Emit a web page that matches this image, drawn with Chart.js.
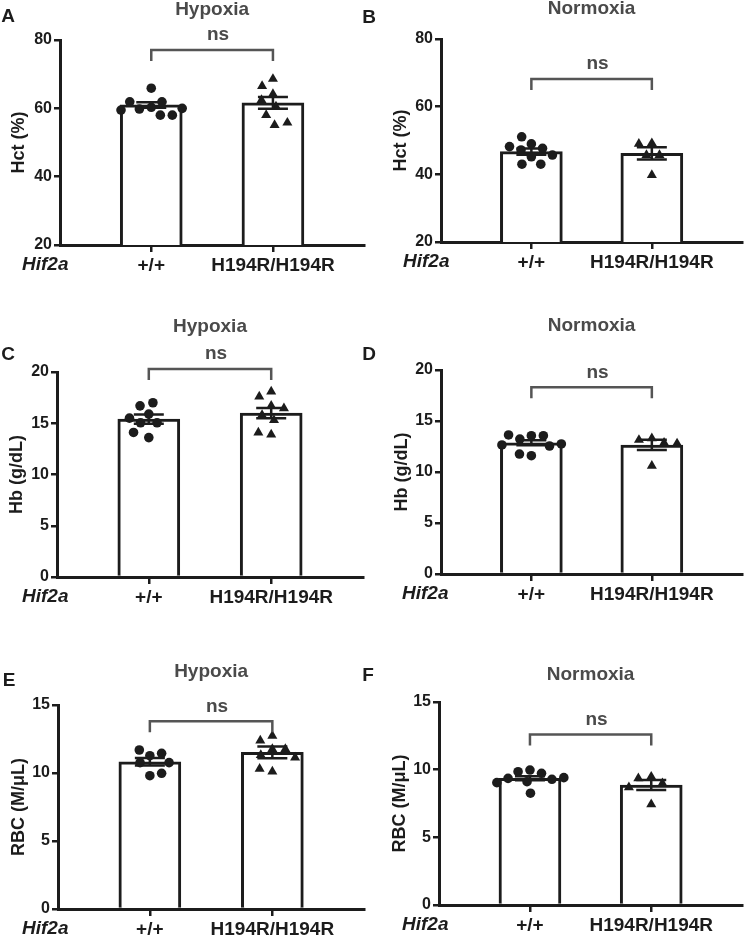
<!DOCTYPE html>
<html><head><meta charset="utf-8">
<script src="https://cdn.jsdelivr.net/npm/chart.js@4/dist/chart.umd.min.js"></script>
<style>
html,body{margin:0;padding:0;background:#fff;}
body{width:748px;height:937px;position:relative;overflow:hidden;}
canvas{position:absolute;}
</style></head><body>
<script>
// ---------- data ----------
const categories = ['+/+', 'H194R/H194R'];
const genotypeLabel = 'Hif2a';
const panelLetters = ['A', 'B', 'C', 'D', 'E', 'F'];
const conditions = ['Hypoxia', 'Normoxia'];
const significance = 'ns';
const hctTitle = 'Hct (%)';
const hbTitle = 'Hb (g/dL)';
const rbcTitle = 'RBC (M/μL)';
const hctTicks = [20, 40, 60, 80];
const hbTicks = [0, 5, 10, 15, 20];
const rbcTicks = [0, 5, 10, 15];

const hctHypoxiaWT = [60.3, 59.8, 61.9, 65.9, 58.0, 58.0, 61.9, 59.5, 60.0];
const hctHypoxiaMut = [68.6, 66.5, 64.2, 62.4, 60.5, 58.0, 55.1, 55.8];
const hctHypoxiaMean = [61.0, 61.6];
const hctHypoxiaSem = [0.8, 1.7];
const hctHypoxiaBracket = 77.1;

const hctNormoxiaWT = [49.0, 51.1, 47.7, 47.2, 48.2, 45.2, 45.7, 43.0, 43.0];
const hctNormoxiaMut = [49.2, 49.0, 45.7, 45.7, 39.8];
const hctNormoxiaMean = [46.7, 46.2];
const hctNormoxiaSem = [0.9, 1.8];
const hctNormoxiaBracket = 68.2;

const hbHypoxiaWT = [15.9, 16.7, 17.0, 15.05, 15.05, 15.5, 13.6, 14.1];
const hbHypoxiaMut = [18.1, 17.6, 16.7, 16.45, 15.8, 15.3, 13.9, 14.1];
const hbHypoxiaMean = [15.4, 16.0];
const hbHypoxiaSem = [0.45, 0.5];
const hbHypoxiaBracket = 20.3;

const hbNormoxiaWT = [13.56, 13.23, 13.56, 13.63, 12.55, 12.75, 12.65, 11.6, 11.76];
const hbNormoxiaMut = [13.3, 13.14, 12.87, 12.8, 10.6];
const hbNormoxiaMean = [12.87, 12.65];
const hbNormoxiaSem = [0.25, 0.5];
const hbNormoxiaBracket = 18.3;

const rbcHypoxiaWT = [11.27, 11.69, 11.45, 10.76, 10.76, 9.8, 9.98];
const rbcHypoxiaMut = [12.74, 12.38, 11.76, 11.76, 11.32, 11.13, 10.1, 10.3];
const rbcHypoxiaMean = [10.83, 11.52];
const rbcHypoxiaSem = [0.27, 0.43];
const rbcHypoxiaBracket = 13.8;

const rbcNormoxiaWT = [9.97, 9.85, 9.73, 9.11, 9.36, 9.29, 9.41, 9.04, 8.26];
const rbcNormoxiaMut = [9.48, 9.36, 8.99, 8.7, 7.44];
const rbcNormoxiaMean = [9.36, 8.87];
const rbcNormoxiaSem = [0.15, 0.37];
const rbcNormoxiaBracket = 12.6;

// ---------- panel assembly ----------
const panels = [
  {letter: panelLetters[0], title: conditions[0], yTitle: hctTitle, ticks: hctTicks, wt: hctHypoxiaWT, mut: hctHypoxiaMut, mean: hctHypoxiaMean, sem: hctHypoxiaSem, bracket: hctHypoxiaBracket},
  {letter: panelLetters[1], title: conditions[1], yTitle: hctTitle, ticks: hctTicks, wt: hctNormoxiaWT, mut: hctNormoxiaMut, mean: hctNormoxiaMean, sem: hctNormoxiaSem, bracket: hctNormoxiaBracket},
  {letter: panelLetters[2], title: conditions[0], yTitle: hbTitle, ticks: hbTicks, wt: hbHypoxiaWT, mut: hbHypoxiaMut, mean: hbHypoxiaMean, sem: hbHypoxiaSem, bracket: hbHypoxiaBracket},
  {letter: panelLetters[3], title: conditions[1], yTitle: hbTitle, ticks: hbTicks, wt: hbNormoxiaWT, mut: hbNormoxiaMut, mean: hbNormoxiaMean, sem: hbNormoxiaSem, bracket: hbNormoxiaBracket},
  {letter: panelLetters[4], title: conditions[0], yTitle: rbcTitle, ticks: rbcTicks, wt: rbcHypoxiaWT, mut: rbcHypoxiaMut, mean: rbcHypoxiaMean, sem: rbcHypoxiaSem, bracket: rbcHypoxiaBracket},
  {letter: panelLetters[5], title: conditions[1], yTitle: rbcTitle, ticks: rbcTicks, wt: rbcNormoxiaWT, mut: rbcNormoxiaMut, mean: rbcNormoxiaMean, sem: rbcNormoxiaSem, bracket: rbcNormoxiaBracket}
];

// layout (page pixels): canvas rect, plot-area rect, label anchors
const layouts = [
  {canvas: [0, 0, 370, 290],   area: [60, 40, 367, 245],   letterXY: [8, 17],    titleY: 10,  yTitleX: 19,   hifX: 22},
  {canvas: [360, 0, 388, 290], area: [441, 39, 747, 242],  letterXY: [369, 18],  titleY: 9,   yTitleX: 401,  hifX: 403},
  {canvas: [0, 280, 370, 330], area: [57, 372, 363, 577],  letterXY: [8, 355],   titleY: 327, yTitleX: 17.5, hifX: 22},
  {canvas: [360, 280, 388, 330], area: [441, 370, 747, 574], letterXY: [369, 355], titleY: 326, yTitleX: 402, hifX: 402},
  {canvas: [0, 590, 370, 347], area: [58, 705, 365, 909],  letterXY: [9, 681],   titleY: 672, yTitleX: 19,   hifX: 22},
  {canvas: [360, 590, 388, 347], area: [439, 702, 747, 905], letterXY: [368, 676], titleY: 675, yTitleX: 400.5, hifX: 402}
];

const FONT = "'Liberation Sans', Arial, Helvetica, sans-serif";
const INK = '#1c1c1c';
const GREY = '#4a4a4a';
Chart.defaults.font.family = FONT;
Chart.defaults.color = INK;

const annot = {
  id: 'annot',
  afterDatasetsDraw(chart, args, o) {
    const ctx = chart.ctx, xs = chart.scales.x, ys = chart.scales.y;
    ctx.save();
    ctx.strokeStyle = INK;
    ctx.lineWidth = 2.5;
    o.mean.forEach((m, i) => {
      const x = xs.getPixelForValue(i);
      const yt = ys.getPixelForValue(m + o.sem[i]);
      const yb = ys.getPixelForValue(m - o.sem[i]);
      ctx.beginPath();
      ctx.moveTo(x, yt); ctx.lineTo(x, yb);
      ctx.moveTo(x - 15, yt); ctx.lineTo(x + 15, yt);
      ctx.moveTo(x - 15, yb); ctx.lineTo(x + 15, yb);
      ctx.stroke();
    });
    ctx.restore();
  },
  afterDraw(chart, args, o) {
    const ctx = chart.ctx, xs = chart.scales.x, ys = chart.scales.y;
    const x0 = xs.getPixelForValue(0), x1 = xs.getPixelForValue(1);
    const by = ys.getPixelForValue(o.bracket);
    ctx.save();
    ctx.strokeStyle = '#555';
    ctx.lineWidth = 2.5;
    ctx.lineJoin = 'miter';
    ctx.beginPath();
    ctx.moveTo(x0, by + 11); ctx.lineTo(x0, by); ctx.lineTo(x1, by); ctx.lineTo(x1, by + 11);
    ctx.stroke();
    ctx.textAlign = 'center';
    ctx.textBaseline = 'middle';
    ctx.fillStyle = GREY;
    ctx.font = 'bold 19px ' + FONT;
    ctx.fillText(significance, (x0 + x1) / 2 + 6, by - 15);
    ctx.fillText(o.title, xs.getPixelForValue(0.5), o.titleY);
    ctx.fillStyle = INK;
    ctx.fillText(o.letter, o.letterX, o.letterY);
    ctx.textAlign = 'left';
    ctx.font = 'italic bold 19px ' + FONT;
    ctx.fillText(genotypeLabel, o.hifX, chart.chartArea.bottom + 20);
    ctx.restore();
  }
};

function swarm(chart, values, center, diam) {
  const xs = chart.scales.x, ys = chart.scales.y;
  const cx = xs.getPixelForValue(center);
  const placed = [];
  return values.map(v => {
    const py = ys.getPixelForValue(v);
    const cands = [0];
    placed.forEach(p => {
      const dy = Math.abs(p.y - py);
      if (dy < diam) {
        const d = Math.sqrt(diam * diam - dy * dy);
        cands.push(p.x + d, p.x - d);
      }
    });
    cands.sort((a, b) => Math.abs(a) - Math.abs(b) || a - b);
    let best = 0;
    for (const c of cands) {
      if (placed.every(p => Math.hypot(p.x - c, p.y - py) >= diam - 0.01)) { best = c; break; }
    }
    placed.push({x: best, y: py});
    return xs.getValueForPixel(cx + best);
  });
}

panels.forEach((p, k) => {
  const L = layouts[k];
  const [cx, cy, cw, ch] = L.canvas;
  const [al, at, ar, ab] = L.area;
  const cv = document.createElement('canvas');
  cv.width = cw; cv.height = ch;
  cv.style.left = cx + 'px'; cv.style.top = cy + 'px';
  cv.style.width = cw + 'px'; cv.style.height = ch + 'px';
  document.body.appendChild(cv);
  const yMin = p.ticks[0], yMax = p.ticks[p.ticks.length - 1];
  const chart = new Chart(cv, {
    type: 'bar',
    data: {
      datasets: [
        {type: 'scatter', data: p.wt.map(v => ({x: 0, y: v})), pointStyle: 'circle', pointRadius: 4.8,
         backgroundColor: INK, borderColor: INK, borderWidth: 0, order: 1, clip: false},
        {type: 'scatter', data: p.mut.map(v => ({x: 1, y: v})), pointStyle: 'triangle', pointRadius: 5.8,
         backgroundColor: INK, borderColor: INK, borderWidth: 0, order: 1, clip: false},
        {type: 'bar', data: p.mean.map((v, i) => ({x: i, y: v})), backgroundColor: '#ffffff',
         borderColor: INK, borderWidth: 3, barThickness: 62, order: 2}
      ]
    },
    options: {
      responsive: false, animation: false, events: [], devicePixelRatio: 1,
      layout: {padding: {top: at - cy, right: cw - (ar - cx), left: 0, bottom: 0}},
      plugins: {
        legend: {display: false}, tooltip: {enabled: false}, title: {display: false},
        annot: {mean: p.mean, sem: p.sem, bracket: p.bracket, title: p.title, titleY: L.titleY - cy,
                letter: p.letter, letterX: L.letterXY[0] - cx, letterY: L.letterXY[1] - cy, hifX: L.hifX - cx}
      },
      scales: {
        x: {
          type: 'linear', min: -0.75, max: 1.75, offset: false,
          afterBuildTicks: s => { s.ticks = [{value: 0}, {value: 1}]; },
          afterFit: s => { s.height = ch - (ab - cy); },
          ticks: {callback: (v, i) => categories[i], font: {size: 19, weight: 'bold'}, color: INK,
                  padding: 2, maxRotation: 0, autoSkip: false},
          grid: {display: true, drawOnChartArea: false, drawTicks: true, tickLength: 7, lineWidth: 2.5, color: INK, offset: false},
          border: {display: true, width: 3, color: INK}
        },
        y: {
          type: 'linear', min: yMin, max: yMax, beginAtZero: false,
          afterBuildTicks: s => { s.ticks = p.ticks.map(v => ({value: v})); },
          afterFit: s => { s.width = al - cx; },
          ticks: {font: {size: 16, weight: 'bold'}, color: INK, padding: 2},
          grid: {display: true, drawOnChartArea: false, drawTicks: true, tickLength: 6, lineWidth: 2.5, color: INK},
          border: {display: true, width: 3, color: INK},
          title: {display: true, text: p.yTitle, font: {size: 18, weight: 'bold'}, color: INK,
                  padding: {top: (L.yTitleX - cx) - 10.8, bottom: 0}}
        }
      }
    },
    plugins: [annot]
  });
  const wtX = swarm(chart, p.wt, 0, 12);
  const mutX = swarm(chart, p.mut, 1, 13);
  chart.data.datasets[0].data = p.wt.map((v, i) => ({x: wtX[i], y: v}));
  chart.data.datasets[1].data = p.mut.map((v, i) => ({x: mutX[i], y: v}));
  chart.update('none');
});
</script>
</body></html>
